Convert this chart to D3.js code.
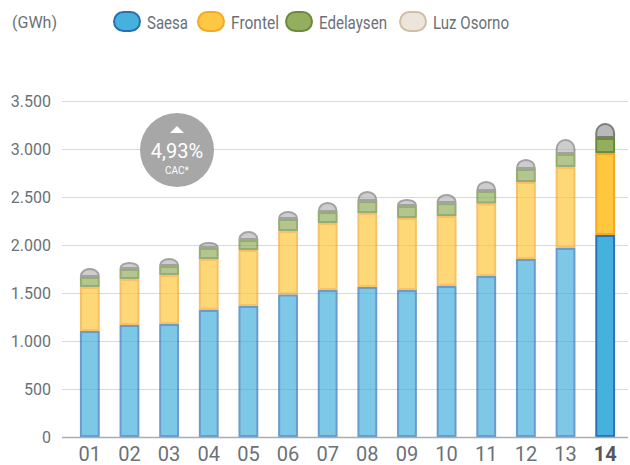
<!DOCTYPE html>
<html>
<head>
<meta charset="utf-8">
<script src="https://cdn.jsdelivr.net/npm/d3@7"></script>
<style>
  body { margin: 0; background: #fff; }
  svg { display: block; font-family: Roboto, 'Liberation Sans', sans-serif; }
</style>
</head>
<body>
<div class="js-chart"></div>
<script>
'use strict';

//chart values (GWh)
var years = ['01', '02', '03', '04', '05', '06', '07', '08', '09', '10', '11', '12', '13', '14'];
var saesa = [1104, 1167, 1177, 1323, 1365, 1485, 1531, 1563, 1531, 1573, 1677, 1854, 1969, 2104];
var frontel = [459, 479, 511, 531, 583, 661, 698, 770, 750, 729, 755, 802, 844, 854];
var edelaysen = [104, 104, 93, 115, 104, 125, 115, 125, 125, 135, 131, 136, 135, 157];
var luzOsorno = [93, 73, 84, 62, 94, 83, 104, 105, 73, 94, 104, 104, 156, 156];
var yTicks = [0, 500, 1000, 1500, 2000, 2500, 3000, 3500];
var seriesNames = ['Saesa', 'Frontel', 'Edelaysen', 'Luz Osorno'];
var cac = '4,93%';

var colors = {
    'Saesa': { fill: '#45b1dc', stroke: '#2b72b8' },
    'Frontel': { fill: '#fec73e', stroke: '#f6a724' },
    'Edelaysen': { fill: '#94ae5f', stroke: '#6b8a3a' },
    'Luz Osorno': { fill: '#b9b9b9', stroke: '#7c7c7c' }
};
var legendColors = {
    'Saesa': { fill: '#45b1dc', stroke: '#2a6fb5' },
    'Frontel': { fill: '#fec844', stroke: '#f7a823' },
    'Edelaysen': { fill: '#93ae5e', stroke: '#6d8a3a' },
    'Luz Osorno': { fill: '#ebe5dc', stroke: '#cdbfa6' }
};

var W = 630, H = 465;
var textGrey = '#6b7178';

var svg = d3.select('.js-chart').append('svg')
    .attr('width', W)
    .attr('height', H);

var x = d3.scaleBand().domain(years).range([70, 625]).paddingInner(0.5).paddingOuter(0.25);
var y = d3.scaleLinear().domain([0, 3500]).range([437, 101]);

//grid lines
svg.append('g').selectAll('line').data(yTicks.slice(1)).enter().append('line')
    .attr('x1', 62).attr('x2', 628)
    .attr('y1', function (d) { return y(d) + 0.5; })
    .attr('y2', function (d) { return y(d) + 0.5; })
    .style('stroke', '#d7d9db')
    .style('stroke-width', 1);

//y tick labels
svg.append('g').selectAll('text').data(yTicks).enter().append('text')
    .attr('x', 51)
    .attr('y', function (d) { return y(d); })
    .attr('dy', '0.36em')
    .attr('text-anchor', 'end')
    .style('font-size', '16px')
    .style('fill', textGrey)
    .text(function (d) { return d3.format(',')(d).replace(/,/g, '.'); });

//stack the series
var rows = years.map(function (yr, i) {
    return { year: yr, 'Saesa': saesa[i], 'Frontel': frontel[i], 'Edelaysen': edelaysen[i], 'Luz Osorno': luzOsorno[i] };
});
var stacked = d3.stack().keys(seriesNames)(rows);

var bars = svg.append('g');
var last = years[years.length - 1];
var sw = 2;

stacked.forEach(function (layer) {
    var c = colors[layer.key];
    var g = bars.append('g');
    layer.forEach(function (d) {
        var yr = d.data.year;
        var x0 = x(yr) + sw / 2;
        var w = x.bandwidth() - sw;
        var yTop = y(d[1]) + sw / 2;
        var yBot = y(d[0]) - sw / 2;
        var op = yr === last ? 1 : 0.7;
        if (layer.key === 'Luz Osorno') {
            //rounded cap on top of the bar
            var r = w / 2;
            var h = yBot - yTop;
            var p;
            if (h >= r) {
                p = 'M' + x0 + ',' + yBot + 'V' + (yTop + r) +
                    'A' + r + ',' + r + ' 0 0 1 ' + (x0 + w) + ',' + (yTop + r) +
                    'V' + yBot + 'Z';
            } else {
                p = 'M' + x0 + ',' + yBot +
                    'A' + r + ',' + h + ' 0 0 1 ' + (x0 + w) + ',' + yBot + 'Z';
            }
            g.append('path')
                .attr('d', p)
                .style('fill', c.fill)
                .style('stroke', c.stroke)
                .style('stroke-width', sw)
                .style('opacity', op);
        } else {
            g.append('rect')
                .attr('x', x0)
                .attr('y', yTop)
                .attr('width', w)
                .attr('height', Math.max(0, yBot - yTop))
                .style('fill', c.fill)
                .style('stroke', c.stroke)
                .style('stroke-width', sw)
                .style('opacity', op);
        }
    });
});

//baseline
svg.append('line')
    .attr('x1', 62).attr('x2', 628)
    .attr('y1', y(0) + 0.5).attr('y2', y(0) + 0.5)
    .style('stroke', '#a9adb1')
    .style('stroke-width', 1.5);

//x labels
svg.append('g').selectAll('text').data(years).enter().append('text')
    .attr('x', function (d) { return x(d) + x.bandwidth() / 2; })
    .attr('y', 461)
    .attr('text-anchor', 'middle')
    .style('font-size', '20px')
    .style('font-weight', function (d) { return d === last ? 'bold' : 'normal'; })
    .style('fill', function (d) { return d === last ? '#55595e' : textGrey; })
    .text(function (d) { return d; });

//unit label
svg.append('text')
    .attr('x', 12).attr('y', 28)
    .style('font-size', '16px')
    .style('fill', textGrey)
    .text('(GWh)');

//legend, text squeezed to the narrow face of the original
var legendX = [113, 197, 285, 399];
var legendW = [41, 48, 68, 76];
var lg = svg.append('g');
seriesNames.forEach(function (name, i) {
    var c = legendColors[name];
    lg.append('rect')
        .attr('x', legendX[i] + 1).attr('y', 12)
        .attr('width', 26).attr('height', 19)
        .attr('rx', 9.5).attr('ry', 9.5)
        .style('fill', c.fill)
        .style('stroke', c.stroke)
        .style('stroke-width', 2);
    lg.append('text')
        .attr('x', legendX[i] + 34).attr('y', 29)
        .attr('textLength', legendW[i])
        .attr('lengthAdjust', 'spacingAndGlyphs')
        .style('font-size', '18px')
        .style('fill', textGrey)
        .text(name);
});

//CAC badge
var badge = svg.append('g').attr('transform', 'translate(177,150)');
badge.append('circle').attr('r', 37).style('fill', '#a7a7a7');
badge.append('path').attr('d', 'M-7,-17L7,-17L0,-24Z').style('fill', '#fff');
badge.append('text')
    .attr('y', 8)
    .attr('text-anchor', 'middle')
    .style('font-size', '20px')
    .style('fill', '#fff')
    .text(cac);
badge.append('text')
    .attr('y', 24)
    .attr('text-anchor', 'middle')
    .style('font-size', '10px')
    .style('fill', '#fff')
    .text('CAC*');
</script>
</body>
</html>
